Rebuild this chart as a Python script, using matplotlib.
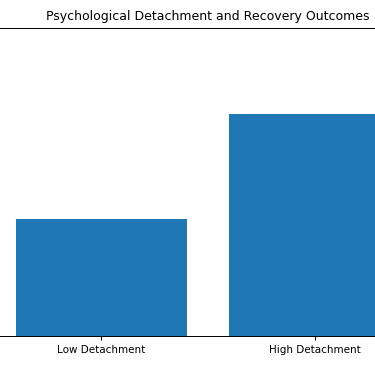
import matplotlib
matplotlib.use("Agg")
import matplotlib.pyplot as plt

categories = ["Low Detachment", "High Detachment"]
values = [3.8, 7.2]
title = "Psychological Detachment and Recovery Outcomes"

W, H = 375, 366
fig = plt.figure(figsize=(W / 100, H / 100), dpi=100)
left_px, right_px, top_px, bottom_px = -27, 443, 28, 336
ax = fig.add_axes([left_px / W, (H - bottom_px) / H,
                   (right_px - left_px) / W, (bottom_px - top_px) / H])
ax.bar(categories, values, color="#1f77b4", width=0.8)
ax.set_xlim(-0.6, 1.6)
ax.set_ylim(0, 10)
ax.set_title(title, fontsize=9.0, pad=5.5)
ax.tick_params(axis="x", labelsize=7.5, length=3, width=0.7)
ax.tick_params(axis="y", labelleft=False, left=False)
for s in ax.spines.values():
    s.set_linewidth(0.7)
fig.savefig("out.png", dpi=100)
